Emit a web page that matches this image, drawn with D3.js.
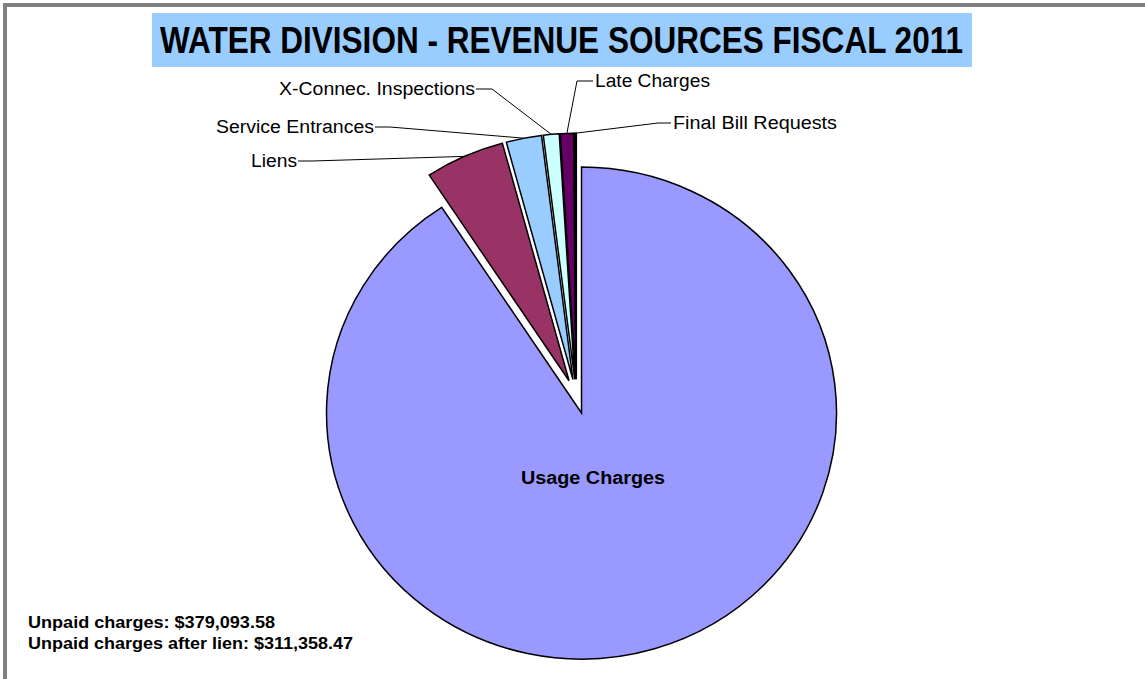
<!DOCTYPE html>
<html><head><meta charset="utf-8">
<script src="https://cdn.jsdelivr.net/npm/d3@7"></script>
<style>body{margin:0;background:#fff}svg{display:block}</style>
</head><body>
<script>
// ---- data ----
const title = "WATER DIVISION - REVENUE SOURCES FISCAL 2011";
const categories = ["Usage Charges", "Liens", "Service Entrances", "X-Connec. Inspections", "Late Charges", "Final Bill Requests"];
const shares = [90.76, 5.03, 2.24, 1.00, 0.83, 0.14];   // percent of revenue
const colors = ["#9999FF", "#993366", "#99CCFF", "#CCFFFF", "#660066", "#000000"];
const notes = ["Unpaid charges: $379,093.58", "Unpaid charges after lien: $311,358.47"];

// ---- layout ----
const W = 1145, H = 679;
const rx = 255, ry = 246, k = ry / rx;
const C = {x: 576.4, y: 396.5};
const explode = 17.9;
const FONT = "'Liberation Sans', Arial, Helvetica, sans-serif";

const labelLayout = [
  null,
  {x: 297, y: 161, anchor: "end",   w: 46,  tick: [298, 312]},
  {x: 374, y: 127, anchor: "end",   w: 158, tick: [375, 390]},
  {x: 475, y: 89,  anchor: "end",   w: 196, tick: [476, 492]},
  {x: 595, y: 81,  anchor: "start", w: 115, tick: [593, 577]},
  {x: 673, y: 123, anchor: "start", w: 164, tick: [671, 658]}
];

const svg = d3.select("body").append("svg")
  .attr("width", W).attr("height", H)
  .style("font-family", FONT);

// frame (top & left visible)
svg.append("rect").attr("x", 5).attr("y", 5).attr("width", 1300).attr("height", 900)
  .attr("fill", "none").attr("stroke", "#808080").attr("stroke-width", 4);

// title
svg.append("rect").attr("x", 152).attr("y", 13).attr("width", 820).attr("height", 54).attr("fill", "#99CCFF");
svg.append("text").attr("x", 160).attr("y", 53)
  .attr("font-size", 36).attr("font-weight", "bold").attr("fill", "#000")
  .attr("textLength", 803).attr("lengthAdjust", "spacingAndGlyphs")
  .text(title);

// pie
const pie = d3.pie().sort(null).value(d => d)(shares);
const arc = d3.arc().innerRadius(0).outerRadius(rx);

const slices = pie.map((s, i) => {
  const mid = (s.startAngle + s.endAngle) / 2;
  const ax = C.x + explode * Math.sin(mid);
  const ay = C.y - explode * Math.cos(mid) * k;
  return {s, i, mid, ax, ay,
    ox: ax + rx * Math.sin(mid), oy: ay - rx * Math.cos(mid) * k};
});

svg.selectAll("g.slice").data(slices).join("g")
  .attr("class", "slice")
  .attr("transform", d => `translate(${d.ax},${d.ay}) scale(1,${k})`)
  .append("path")
  .attr("d", d => arc(d.s))
  .attr("fill", d => colors[d.i])
  .attr("stroke", "#000").attr("stroke-width", 1.5)
  .attr("vector-effect", "non-scaling-stroke");

// leader lines + labels
const lbl = slices.filter(d => d.i > 0);
svg.selectAll("polyline.leader").data(lbl).join("polyline")
  .attr("class", "leader")
  .attr("points", d => {
    const L = labelLayout[d.i];
    return `${L.tick[0]},${L.y} ${L.tick[1]},${L.y} ${d.ox},${d.oy}`;
  })
  .attr("fill", "none").attr("stroke", "#000").attr("stroke-width", 1);

svg.selectAll("text.lbl").data(lbl).join("text")
  .attr("class", "lbl")
  .attr("x", d => labelLayout[d.i].x)
  .attr("y", d => labelLayout[d.i].y + 6)
  .attr("text-anchor", d => labelLayout[d.i].anchor)
  .attr("font-size", 18).attr("fill", "#000")
  .attr("textLength", d => labelLayout[d.i].w).attr("lengthAdjust", "spacingAndGlyphs")
  .text(d => categories[d.i]);

// inside label for usage
svg.append("text").attr("x", 593).attr("y", 483.5)
  .attr("text-anchor", "middle").attr("font-size", 17.5).attr("font-weight", "bold")
  .attr("textLength", 144).attr("lengthAdjust", "spacingAndGlyphs")
  .text(categories[0]);

// notes
const noteW = [247, 325];
svg.selectAll("text.note").data(notes).join("text")
  .attr("class", "note")
  .attr("x", 28).attr("y", (d, i) => 627.5 + i * 21.5)
  .attr("font-size", 16).attr("font-weight", "bold")
  .attr("textLength", (d, i) => noteW[i]).attr("lengthAdjust", "spacingAndGlyphs")
  .text(d => d);
</script>
</body></html>
